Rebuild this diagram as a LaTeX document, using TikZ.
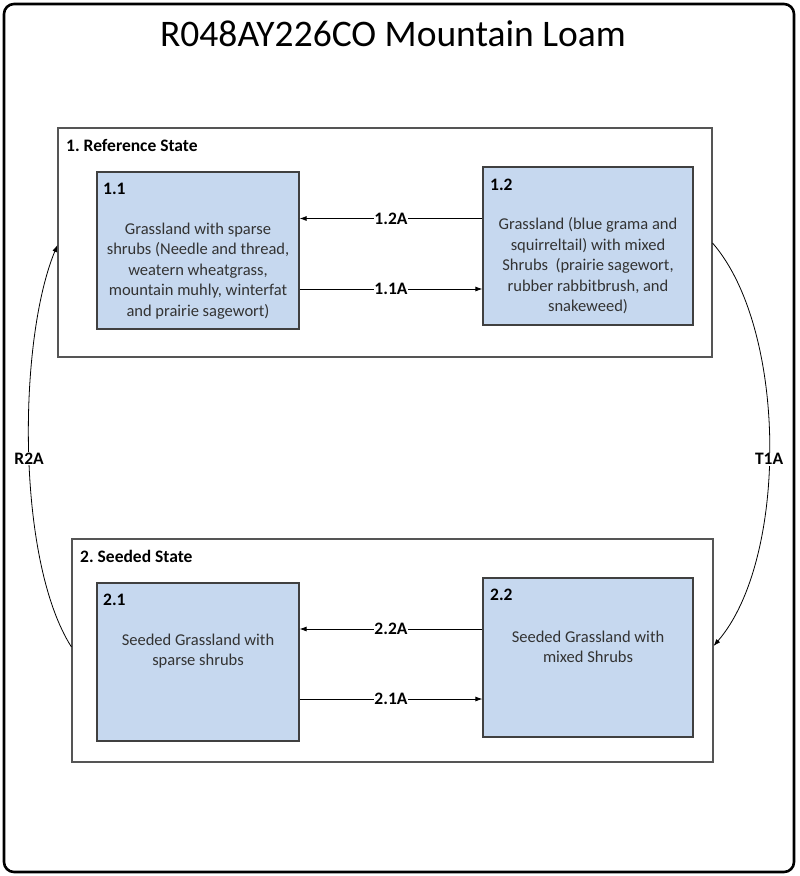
\documentclass[tikz,border=0pt]{standalone}
\usepackage{fontspec}
\setmainfont{Carlito}
\usetikzlibrary{arrows.meta}
\frenchspacing
\definecolor{boxfill}{HTML}{C6D8EF}
\definecolor{boxline}{HTML}{404040}
\definecolor{stateline}{HTML}{555555}
\definecolor{bodytext}{HTML}{333333}
\tikzset{
  stbox/.style={draw=stateline, line width=1.1pt, fill=white, rectangle, inner sep=0pt},
  phbox/.style={draw=boxline, line width=1.2pt, fill=boxfill, rectangle, inner sep=0pt},
  phtext/.style={align=center, text=bodytext, inner sep=0pt, font=\fontsize{16.5}{20.5}\selectfont},
  tag/.style={anchor=west, inner sep=0pt, font=\bfseries\fontsize{17.5}{20}\selectfont},
  arr/.style={line width=0.8pt, -{Latex[length=7pt,width=5pt]}},
  lbl/.style={fill=white, inner sep=0.8pt, font=\bfseries\fontsize{17.5}{20}\selectfont}
}
\begin{document}
\begin{tikzpicture}[x=1pt,y=-1pt]
\useasboundingbox (0,0) rectangle (800,876);
\draw[line width=2.6pt, rounded corners=10pt] (4,4) rectangle (794,872);
\node[font=\fontsize{37.5}{42}\selectfont, inner sep=0pt] (title) at (393,34) {R048AY226CO Mountain Loam};

% state boxes
\node[stbox, minimum width=654pt, minimum height=229pt] (s1) at (385,242.5) {};
\node[stbox, minimum width=641pt, minimum height=223pt] (s2) at (392.5,650.5) {};
\node[tag] (s1t) at (66,145) {1. Reference State};
\node[tag] (s2t) at (80,556) {2. Seeded State};

% phase boxes
\node[phbox, minimum width=202pt, minimum height=157pt] (b11) at (198,250.5) {};
\node[phbox, minimum width=210pt, minimum height=158pt] (b12) at (588,246) {};
\node[phbox, minimum width=202pt, minimum height=158pt] (b21) at (198,662) {};
\node[phbox, minimum width=210pt, minimum height=159pt] (b22) at (588,657.5) {};

\node[tag] (b11t) at (103,189) {1.1};
\node[tag] (b12t) at (490,185) {1.2};
\node[tag] (b21t) at (103,600) {2.1};
\node[tag] (b22t) at (490,595) {2.2};

\node[phtext] (b11x) at (198,271) {Grassland with sparse\\shrubs (Needle and thread,\\weatern wheatgrass,\\mountain muhly, winterfat\\and prairie sagewort)};
\node[phtext] (b12x) at (588,266) {Grassland (blue grama and\\squirreltail) with mixed\\Shrubs\ \ (prairie sagewort,\\rubber rabbitbrush, and\\snakeweed)};
\node[phtext] (b21x) at (198,651) {Seeded Grassland with\\sparse shrubs};
\node[phtext] (b22x) at (588,647) {Seeded Grassland with\\mixed Shrubs};

% horizontal transitions
\coordinate (r12) at (391,218.5);
\coordinate (r11) at (391,289);
\coordinate (r22) at (391,629);
\coordinate (r21) at (391,699);
\draw[arr] (b12.west |- r12) -- node[lbl] {1.2A} (b11.east |- r12);
\draw[arr] (b11.east |- r11) -- node[lbl] {1.1A} (b12.west |- r11);
\draw[arr] (b22.west |- r22) -- node[lbl] {2.2A} (b21.east |- r22);
\draw[arr] (b21.east |- r21) -- node[lbl] {2.1A} (b22.west |- r21);

% state transitions
\coordinate (t1s) at (713,243);
\coordinate (t1e) at (713,646);
\coordinate (r2s) at (72,647);
\coordinate (r2e) at (58,245);
\draw[arr] (s1.east |- t1s) .. controls (788,330) and (788,560) .. node[lbl, pos=0.53] {T1A} (s2.east |- t1e);
\draw[arr] (s2.west |- r2s) .. controls (16,560) and (18,340) .. node[lbl, pos=0.48] {R2A} (s1.west |- r2e);
\end{tikzpicture}
\end{document}
